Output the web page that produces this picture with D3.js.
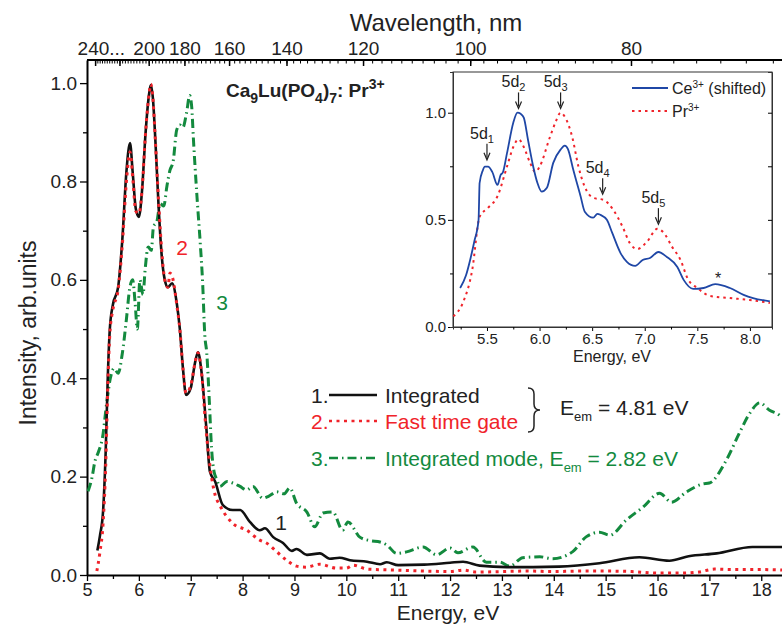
<!DOCTYPE html>
<html>
<head>
<meta charset="utf-8">
<script src="https://cdn.jsdelivr.net/npm/d3@7"></script>
<style>
  body { margin: 0; background: #fff; }
  svg { font-family: "Liberation Sans", Arial, sans-serif; }
</style>
</head>
<body>
<div id="chart"></div>
<script>
// ---- data ----
var energyInt = [5.2,5.25,5.31,5.36,5.4,5.44,5.5,5.6,5.68,5.76,5.83,5.88,5.94,6.0,6.06,6.13,6.2,6.23,6.27,6.32,6.38,6.44,6.5,6.56,6.64,6.73,6.79,6.85,6.91,7.0,7.08,7.14,7.2,7.3,7.37,7.47,7.62,7.81,7.95,8.14,8.33,8.43,8.59,8.78,8.95,9.04,9.24,9.49,9.68,9.87,10.07,10.4,10.65,10.78,11.0,11.5,12.0,12.25,12.57,13.09,13.6,14.1,14.88,15.65,16.23,16.6,17.14,17.83,18.4];
var integrated = [0.05,0.08,0.13,0.25,0.4,0.5,0.55,0.585,0.68,0.82,0.878,0.82,0.745,0.728,0.78,0.9,0.98,0.996,0.97,0.88,0.75,0.65,0.6,0.585,0.593,0.553,0.5,0.42,0.366,0.38,0.43,0.453,0.42,0.3,0.21,0.19,0.142,0.132,0.132,0.108,0.091,0.095,0.077,0.065,0.049,0.053,0.041,0.044,0.033,0.035,0.03,0.027,0.022,0.026,0.02,0.021,0.025,0.027,0.019,0.016,0.016,0.017,0.024,0.036,0.029,0.038,0.044,0.057,0.057];

var energyFast = [5.19,5.25,5.31,5.36,5.4,5.44,5.5,5.6,5.68,5.76,5.83,5.88,5.94,6.0,6.06,6.13,6.2,6.23,6.27,6.32,6.38,6.44,6.5,6.56,6.6,6.66,6.73,6.79,6.85,6.91,7.0,7.08,7.14,7.2,7.3,7.4,7.47,7.56,7.81,8.08,8.33,8.46,8.66,8.85,9.04,9.23,9.49,9.81,10.0,10.13,10.4,10.97,11.5,12.0,12.25,12.5,13.0,13.5,14.0,14.5,15.0,15.5,16.0,16.5,16.8,17.1,17.5,18.0,18.4];
var fastGate = [0.008,0.047,0.105,0.22,0.38,0.49,0.54,0.58,0.67,0.8,0.86,0.81,0.74,0.735,0.78,0.9,0.98,0.998,0.97,0.88,0.76,0.66,0.6,0.585,0.614,0.6,0.55,0.5,0.42,0.37,0.385,0.43,0.452,0.42,0.29,0.2,0.163,0.142,0.105,0.091,0.071,0.065,0.047,0.03,0.018,0.016,0.022,0.014,0.014,0.02,0.012,0.01,0.008,0.007,0.01,0.006,0.007,0.008,0.007,0.008,0.008,0.007,0.004,0.004,0.006,0.012,0.011,0.011,0.01];

var energyMode = [5.02,5.1,5.15,5.22,5.3,5.38,5.45,5.52,5.6,5.68,5.76,5.82,5.88,5.93,5.97,6.02,6.08,6.12,6.18,6.24,6.28,6.35,6.41,6.48,6.54,6.6,6.66,6.73,6.79,6.85,6.92,6.98,7.02,7.05,7.12,7.18,7.23,7.27,7.31,7.36,7.4,7.45,7.5,7.56,7.7,7.81,7.95,8.08,8.2,8.39,8.5,8.66,8.8,8.91,9.04,9.24,9.39,9.55,9.74,9.93,10.03,10.26,10.45,10.65,10.78,10.97,11.16,11.48,11.74,12.0,12.15,12.44,12.7,12.96,13.15,13.4,13.73,13.98,14.36,14.63,14.88,15.08,15.4,15.71,16.04,16.27,16.56,16.87,17.0,17.33,17.58,17.78,17.97,18.16,18.35,18.4];
var integratedMode = [0.17,0.2,0.23,0.25,0.28,0.35,0.4,0.42,0.41,0.45,0.52,0.58,0.6,0.55,0.5,0.6,0.57,0.62,0.667,0.66,0.707,0.72,0.755,0.75,0.79,0.823,0.84,0.905,0.915,0.91,0.94,0.975,0.95,0.89,0.77,0.68,0.593,0.49,0.45,0.35,0.26,0.21,0.195,0.18,0.19,0.187,0.18,0.173,0.18,0.156,0.16,0.169,0.165,0.177,0.146,0.128,0.098,0.126,0.128,0.091,0.108,0.077,0.07,0.067,0.061,0.044,0.047,0.057,0.041,0.055,0.045,0.057,0.026,0.026,0.018,0.035,0.037,0.033,0.047,0.078,0.087,0.081,0.112,0.137,0.166,0.148,0.169,0.185,0.187,0.234,0.289,0.329,0.35,0.335,0.325,0.32];

// inset
var insetEnergyCe = [5.245,5.3,5.34,5.38,5.42,5.43,5.46,5.48,5.51,5.55,5.6,5.63,5.65,5.69,5.75,5.79,5.82,5.85,5.89,5.94,5.98,6.02,6.07,6.13,6.2,6.24,6.27,6.32,6.39,6.43,6.51,6.55,6.58,6.64,6.69,6.77,6.83,6.91,6.98,7.05,7.13,7.21,7.31,7.37,7.46,7.56,7.67,7.81,7.94,8.03,8.19];
var ceShifted = [0.182,0.24,0.313,0.4,0.5,0.672,0.73,0.748,0.748,0.724,0.663,0.71,0.72,0.81,0.953,1.0,0.995,0.977,0.874,0.748,0.672,0.632,0.65,0.766,0.828,0.846,0.83,0.735,0.61,0.538,0.51,0.528,0.523,0.5,0.44,0.345,0.304,0.285,0.313,0.322,0.35,0.327,0.28,0.22,0.178,0.182,0.2,0.182,0.15,0.135,0.12];
var insetEnergyPr = [5.18,5.27,5.36,5.43,5.51,5.6,5.69,5.75,5.8,5.85,5.91,5.96,6.0,6.1,6.15,6.2,6.24,6.31,6.37,6.43,6.51,6.61,6.7,6.79,6.86,6.93,7.02,7.12,7.18,7.26,7.34,7.41,7.5,7.62,7.81,8.0,8.19];
var prInset = [0.05,0.112,0.267,0.514,0.556,0.61,0.748,0.84,0.876,0.84,0.766,0.724,0.748,0.888,0.953,1.0,0.981,0.888,0.748,0.654,0.603,0.593,0.547,0.467,0.39,0.364,0.397,0.458,0.44,0.374,0.313,0.224,0.182,0.145,0.135,0.126,0.112];

// peak labels in the inset: energy and intensity the arrow points to
var peakNames = ["1","2","3","4","5"];
var peakEnergy = [5.5, 5.8, 6.2, 6.6, 7.13];
var peakLevel = [0.78, 1.02, 1.02, 0.62, 0.48];

// axis ticks
var energyTicks = [5,6,7,8,9,10,11,12,13,14,15,16,17,18];
var intensityTicks = [0,0.2,0.4,0.6,0.8,1.0];
var wavelengthTicks = [240,220,200,180,160,140,120,100,80];
var insetEnergyTicks = [5.5,6.0,6.5,7.0,7.5,8.0];
var insetIntensityTicks = [0,0.5,1.0];

var W = 782, H = 626;
var green = "#138a3e", red = "#f0232a", blue = "#1f47a6";

var svg = d3.select("#chart").append("svg")
    .attr("width", W).attr("height", H);

// ---- main scales ----
var x = d3.scaleLinear().domain([5, 18.4]).range([87, 782]);
var y = d3.scaleLinear().domain([0, 1.047]).range([575, 60]);

// clip so nothing spills past the right edge
svg.append("clipPath").attr("id", "clipMain")
  .append("rect").attr("x", 87).attr("y", 60).attr("width", 695).attr("height", 515);

// bottom axis
var minorE = d3.range(5.5, 18.5, 1);
svg.append("g")
    .attr("transform", "translate(0,575)")
    .call(d3.axisBottom(x).tickValues(minorE).tickSize(4).tickFormat(""))
    .call(function(g){ g.select(".domain").remove(); });
var xAxis = svg.append("g")
    .attr("transform", "translate(0,575)")
    .call(d3.axisBottom(x).tickValues(energyTicks).tickSize(6).tickSizeOuter(0).tickPadding(2).tickFormat(d3.format("d")));
xAxis.selectAll("text").attr("font-size", 18).attr("fill", "#222");

// left axis
svg.append("g")
    .attr("transform", "translate(87,0)")
    .call(d3.axisLeft(y).tickValues(d3.range(0.1, 1.0, 0.2)).tickSize(4).tickFormat(""))
    .call(function(g){ g.select(".domain").remove(); });
var yAxis = svg.append("g")
    .attr("transform", "translate(87,0)")
    .call(d3.axisLeft(y).tickValues(intensityTicks).tickSize(7).tickSizeOuter(0).tickPadding(3).tickFormat(d3.format(".1f")));
yAxis.selectAll("text").attr("font-size", 19).attr("fill", "#222");

// top axis: wavelength
var topScale = function(nm){ return x(1239.84 / nm); };
var topG = svg.append("g");
topG.append("line").attr("x1", 87).attr("x2", 782).attr("y1", 60).attr("y2", 60)
    .attr("stroke", "#000").attr("stroke-width", 2);
topG.selectAll(".minor").data(d3.range(68, 242, 2)).enter().append("line")
    .attr("x1", topScale).attr("x2", topScale)
    .attr("y1", 60).attr("y2", 63.5)
    .attr("stroke", "#000").attr("stroke-width", 1);
topG.selectAll(".major").data(wavelengthTicks).enter().append("line")
    .attr("x1", topScale).attr("x2", topScale)
    .attr("y1", 60).attr("y2", 66)
    .attr("stroke", "#000").attr("stroke-width", 1.5);
topG.selectAll(".lab").data(wavelengthTicks.filter(function(d){ return d != 220; })).enter().append("text")
    .attr("x", function(d){ return d == 240 ? topScale(d) - 18 : topScale(d); })
    .attr("y", 55)
    .attr("text-anchor", function(d){ return d == 240 ? "start" : "middle"; })
    .attr("font-size", 19).attr("fill", "#222")
    .text(function(d){ return d == 240 ? "240..." : d; });

svg.selectAll(".domain").attr("stroke-width", 2);
svg.selectAll(".tick line").attr("stroke-width", 1.3);

// ---- main curves ----
var line = d3.line()
    .x(function(d){ return x(d[0]); })
    .y(function(d){ return y(d[1]); })
    .curve(d3.curveMonotoneX);
var curves = svg.append("g").attr("clip-path", "url(#clipMain)");
curves.append("path").datum(d3.zip(energyMode, integratedMode))
    .attr("d", line).attr("fill", "none")
    .attr("stroke", green).attr("stroke-width", 3).attr("stroke-dasharray", "9,4,1.5,4");
curves.append("path").datum(d3.zip(energyInt, integrated))
    .attr("d", line).attr("fill", "none")
    .attr("stroke", "#111").attr("stroke-width", 2.6);
curves.append("path").datum(d3.zip(energyFast, fastGate))
    .attr("d", line).attr("fill", "none")
    .attr("stroke", red).attr("stroke-width", 3).attr("stroke-dasharray", "3,4.5");

// curve numbers
svg.append("text").attr("x", 182).attr("y", 255).attr("text-anchor", "middle")
    .attr("font-size", 21).attr("fill", red).text("2");
svg.append("text").attr("x", 222).attr("y", 310).attr("text-anchor", "middle")
    .attr("font-size", 21).attr("fill", green).text("3");
svg.append("text").attr("x", 281).attr("y", 530).attr("text-anchor", "middle")
    .attr("font-size", 21).attr("fill", "#222").text("1");

// axis titles
svg.append("text").attr("x", 436).attr("y", 31).attr("text-anchor", "middle")
    .attr("font-size", 24).attr("fill", "#222").text("Wavelength, nm");
svg.append("text").attr("x", 448).attr("y", 620).attr("text-anchor", "middle")
    .attr("font-size", 21).attr("fill", "#222").text("Energy, eV");
svg.append("text").attr("transform", "translate(36,333) rotate(-90)")
    .attr("text-anchor", "middle").attr("font-size", 23).attr("fill", "#222")
    .text("Intensity, arb.units");

// compound label
var comp = svg.append("text").attr("x", 226).attr("y", 97)
    .attr("font-size", 19).attr("font-weight", "bold").attr("fill", "#222");
comp.append("tspan").text("Ca");
comp.append("tspan").attr("font-size", 14).attr("dy", 6).text("9");
comp.append("tspan").attr("dy", -6).text("Lu(PO");
comp.append("tspan").attr("font-size", 14).attr("dy", 6).text("4");
comp.append("tspan").attr("dy", -6).text(")");
comp.append("tspan").attr("font-size", 14).attr("dy", 6).text("7");
comp.append("tspan").attr("dy", -6).text(": Pr");
comp.append("tspan").attr("font-size", 14).attr("dy", -8).text("3+");

// ---- legend ----
var leg = svg.append("g");
var legRows = [
  {num: "1.", text: "Integrated", color: "#222", stroke: "#111", dash: null, y: 403},
  {num: "2.", text: "Fast time gate", color: red, stroke: red, dash: "3,4.5", y: 429},
  {num: "3.", text: "Integrated mode, ", color: green, stroke: green, dash: "9,4,1.5,4", y: 466}
];
legRows.forEach(function(r){
  leg.append("text").attr("x", 311).attr("y", r.y).attr("font-size", 21)
      .attr("fill", r.color).text(r.num);
  leg.append("line").attr("x1", 329).attr("x2", 377).attr("y1", r.y - 8).attr("y2", r.y - 8)
      .attr("stroke", r.stroke).attr("stroke-width", 2.5)
      .attr("stroke-dasharray", r.dash);
  var t = leg.append("text").attr("x", 385).attr("y", r.y).attr("font-size", 21)
      .attr("fill", r.color).text(r.text);
  if (r.num == "3.") {
    t.append("tspan").text("E");
    t.append("tspan").attr("font-size", 13).attr("dy", 6).text("em");
    t.append("tspan").attr("dy", -6).text(" = 2.82 eV");
  }
});
// brace
leg.append("path")
    .attr("d", "M528,388 q6,0 6,6 l0,10 q0,6 6,6 q-6,0 -6,6 l0,10 q0,6 -6,6")
    .attr("fill", "none").attr("stroke", "#222").attr("stroke-width", 1.5);
var eem = leg.append("text").attr("x", 560).attr("y", 415).attr("font-size", 21).attr("fill", "#222");
eem.append("tspan").text("E");
eem.append("tspan").attr("font-size", 13).attr("dy", 6).text("em");
eem.append("tspan").attr("dy", -6).text(" = 4.81 eV");

// ---- inset ----
var ix = d3.scaleLinear().domain([5.177, 8.21]).range([453, 772]);
var iy = d3.scaleLinear().domain([0, 1.19]).range([327, 72]);
var inset = svg.append("g");
inset.append("rect").attr("x", 453).attr("y", 72).attr("width", 319).attr("height", 255)
    .attr("fill", "#fff").attr("stroke", "#333").attr("stroke-width", 1);

var ixAxis = inset.append("g").attr("transform", "translate(0,327)")
    .call(d3.axisBottom(ix).tickValues(insetEnergyTicks).tickSize(4).tickSizeOuter(0).tickPadding(2).tickFormat(d3.format(".1f")));
inset.append("g").attr("transform", "translate(0,327)")
    .call(d3.axisBottom(ix).tickValues(d3.range(5.25, 8.2, 0.5)).tickSize(2.5).tickFormat(""));
ixAxis.selectAll("text").attr("font-size", 15).attr("fill", "#222");
var iyAxis = inset.append("g").attr("transform", "translate(453,0)")
    .call(d3.axisLeft(iy).tickValues(insetIntensityTicks).tickSize(5).tickSizeOuter(0).tickPadding(2).tickFormat(d3.format(".1f")));
inset.append("g").attr("transform", "translate(453,0)")
    .call(d3.axisLeft(iy).tickValues([0.25, 0.75]).tickSize(3).tickFormat(""));
iyAxis.selectAll("text").attr("font-size", 15).attr("fill", "#222");
inset.append("g").attr("transform", "translate(772,0)")
    .call(d3.axisLeft(iy).tickValues([0.25, 0.5, 0.75, 1.0]).tickSize(4).tickFormat(""));
inset.selectAll(".domain").attr("stroke", "#333").attr("stroke-width", 1);
inset.append("text").attr("x", 612).attr("y", 362).attr("text-anchor", "middle")
    .attr("font-size", 16).attr("fill", "#222").text("Energy, eV");

var iline = d3.line()
    .x(function(d){ return ix(d[0]); })
    .y(function(d){ return iy(d[1]); })
    .curve(d3.curveMonotoneX);
inset.append("path").datum(d3.zip(insetEnergyPr, prInset))
    .attr("d", iline).attr("fill", "none")
    .attr("stroke", red).attr("stroke-width", 2).attr("stroke-dasharray", "2.5,4");
inset.append("path").datum(d3.zip(insetEnergyCe, ceShifted))
    .attr("d", iline).attr("fill", "none")
    .attr("stroke", blue).attr("stroke-width", 1.8);

// peak arrows
d3.range(peakNames.length).forEach(function(i){
  var px = ix(peakEnergy[i]), py = iy(peakLevel[i]);
  inset.append("line").attr("x1", px).attr("x2", px).attr("y1", py - 16).attr("y2", py - 2)
      .attr("stroke", "#222").attr("stroke-width", 1.2);
  inset.append("path").attr("d", "M" + (px - 3) + "," + (py - 7) + " L" + px + "," + py + " L" + (px + 3) + "," + (py - 7))
      .attr("fill", "none").attr("stroke", "#222").attr("stroke-width", 1.2);
  var t = inset.append("text").attr("x", px - 5).attr("y", py - 21).attr("text-anchor", "middle")
      .attr("font-size", 16).attr("fill", "#222").text("5d");
  t.append("tspan").attr("font-size", 11).attr("dy", 4).text(peakNames[i]);
});
inset.append("text").attr("x", 718).attr("y", 284).attr("text-anchor", "middle")
    .attr("font-size", 16).attr("fill", "#222").text("*");

// inset legend
inset.append("line").attr("x1", 632).attr("x2", 668).attr("y1", 88).attr("y2", 88)
    .attr("stroke", blue).attr("stroke-width", 1.8);
var l1 = inset.append("text").attr("x", 672).attr("y", 94).attr("font-size", 16).attr("fill", "#222").text("Ce");
l1.append("tspan").attr("font-size", 10).attr("dy", -6).text("3+");
l1.append("tspan").attr("dy", 6).text(" (shifted)");
inset.append("line").attr("x1", 632).attr("x2", 668).attr("y1", 111).attr("y2", 111)
    .attr("stroke", red).attr("stroke-width", 2).attr("stroke-dasharray", "2.5,4");
var l2 = inset.append("text").attr("x", 672).attr("y", 117).attr("font-size", 16).attr("fill", "#222").text("Pr");
l2.append("tspan").attr("font-size", 10).attr("dy", -6).text("3+");
</script>
</body>
</html>
